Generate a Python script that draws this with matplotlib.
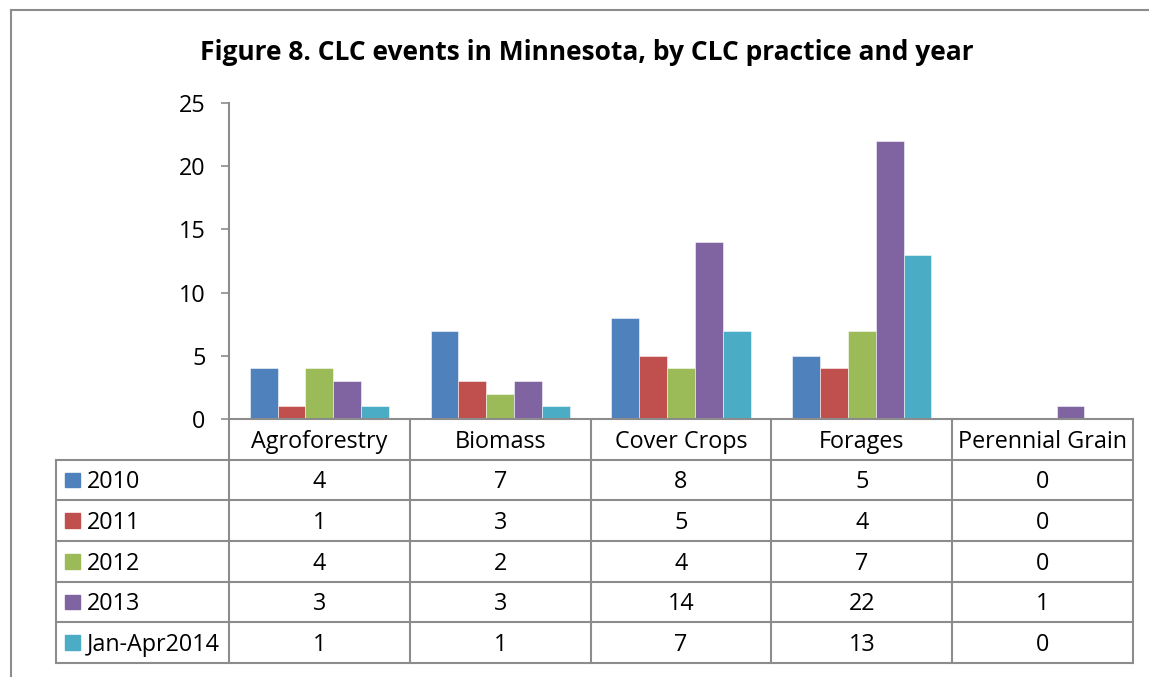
import matplotlib
matplotlib.use("Agg")
import matplotlib.pyplot as plt
from matplotlib.patches import Rectangle
import numpy as np

categories = ["Agroforestry", "Biomass", "Cover Crops", "Forages", "Perennial Grain"]
series_names = ["2010", "2011", "2012", "2013", "Jan-Apr2014"]
v2010 = [4, 7, 8, 5, 0]
v2011 = [1, 3, 5, 4, 0]
v2012 = [4, 2, 4, 7, 0]
v2013 = [3, 3, 14, 22, 1]
v2014 = [1, 1, 7, 13, 0]
series_values = [v2010, v2011, v2012, v2013, v2014]
colors = ["#4F81BD", "#C0504D", "#9BBB59", "#8064A2", "#4BACC6"]
yticks = [0, 5, 10, 15, 20, 25]
title = "Figure 8. CLC events in Minnesota, by CLC practice and year"

W, H = 1149, 677
plt.rcParams['font.family'] = ['Open Sans', 'DejaVu Sans']
fig = plt.figure(figsize=(W / 100, H / 100), dpi=100)
grid_c = "#8C8C8C"
fs = 16.8

def px(x0, y0, x1, y1):
    return [x0 / W, 1 - y1 / H, (x1 - x0) / W, (y1 - y0) / H]

# outer frame (only left/top visible)
fig.add_artist(plt.Line2D([11 / W, 11 / W], [0, 1 - 10 / H], color=grid_c, lw=1.5))
fig.add_artist(plt.Line2D([11 / W, 1], [1 - 10 / H, 1 - 10 / H], color=grid_c, lw=1.5))

fig.text(587 / W, 1 - 53 / H, title, ha='center', va='center', fontsize=19, fontweight='bold')

ax = fig.add_axes(px(229, 103, 1133, 419))
n = len(series_names)
bw = 1 / (n + 1.5)
x = np.arange(len(categories))
for i, (name, vals, c) in enumerate(zip(series_names, series_values, colors)):
    ax.bar(x + (i - (n - 1) / 2) * bw, vals, width=bw, color=c,
           edgecolor=(1, 1, 1, 0.6), linewidth=0.6)
ax.set_xlim(-0.5, len(categories) - 0.5)
ax.set_ylim(0, 25)
ax.set_yticks(yticks)
ax.set_yticklabels([str(t) for t in yticks], fontsize=fs)
ax.tick_params(axis='y', length=6, color=grid_c, width=1.2, pad=11)
ax.set_xticks([])
for s in ['top', 'right']:
    ax.spines[s].set_visible(False)
for s in ['left', 'bottom']:
    ax.spines[s].set_color(grid_c)
    ax.spines[s].set_linewidth(1.5)
ax.patch.set_alpha(0)

# data table
tx = fig.add_axes(px(56, 419, 1133, 663))
lab_w = (229 - 56) / (904 / len(categories))
tx.set_xlim(-0.5 - lab_w, len(categories) - 0.5)
tx.set_ylim(len(series_names) + 1, 0)
tx.axis('off')
lw = 1.5
for k in range(len(categories) + 1):
    tx.plot([k - 0.5, k - 0.5], [0, n + 1], color=grid_c, lw=lw, clip_on=False)
tx.plot([-0.5 - lab_w, -0.5 - lab_w], [1, n + 1], color=grid_c, lw=lw, clip_on=False)
for r in range(1, n + 2):
    tx.plot([-0.5 - lab_w, len(categories) - 0.5], [r, r], color=grid_c, lw=lw, clip_on=False)
dy = 0.06
for k, cat in enumerate(categories):
    tx.text(k, 0.5 + dy, cat, ha='center', va='center', fontsize=fs)
unit = 904 / len(categories)
for r, (name, vals, c) in enumerate(zip(series_names, series_values, colors)):
    yc = r + 1.5
    sq_x = -0.5 - lab_w + 9 / unit
    sq_w = 15 / unit
    sq_h = 15 / 40.7
    tx.add_patch(Rectangle((sq_x, yc - sq_h / 2), sq_w, sq_h, color=c, clip_on=False))
    tx.text(-0.5 - lab_w + 31 / unit, yc + dy, name, ha='left', va='center', fontsize=fs)
    for k, v in enumerate(vals):
        tx.text(k, yc + dy, str(v), ha='center', va='center', fontsize=fs)

fig.savefig("out.png", dpi=100)
